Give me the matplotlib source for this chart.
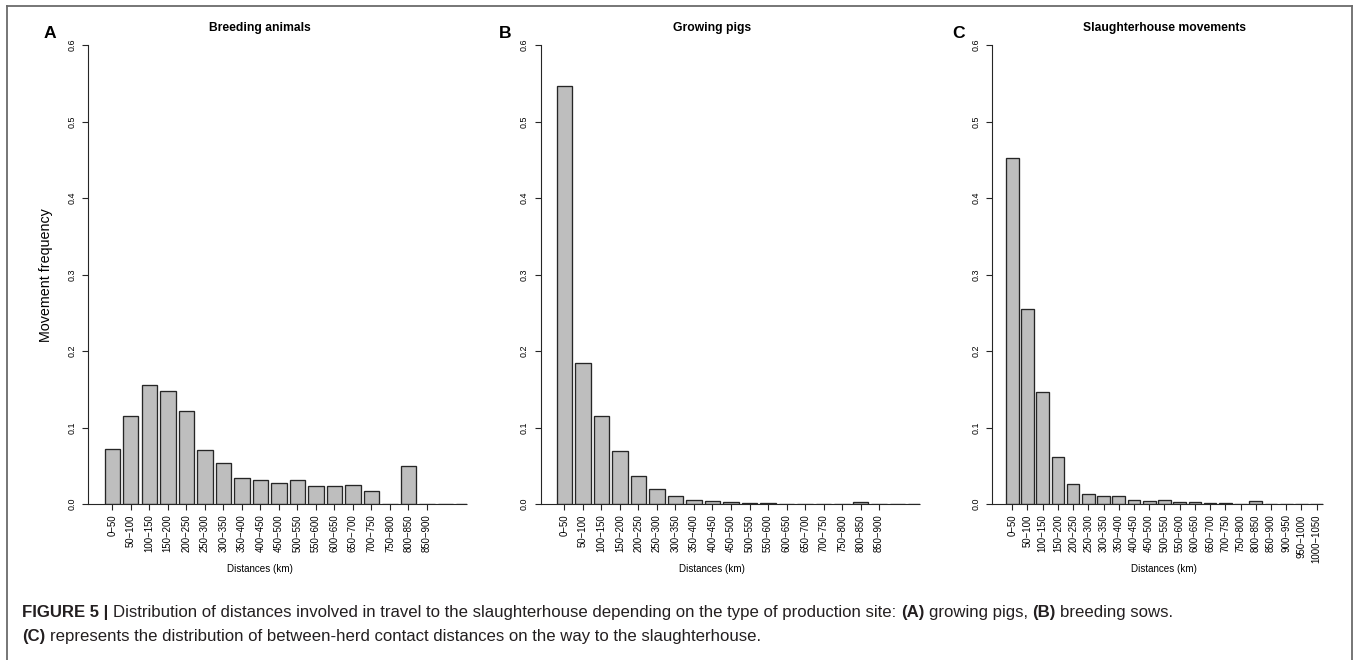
import matplotlib
matplotlib.use("Agg")
import matplotlib.pyplot as plt
from matplotlib.lines import Line2D

plt.rcParams['font.family'] = ['Liberation Sans', 'DejaVu Sans']

# ---------------- data ----------------
labels_ab = ["0−50", "50−100", "100−150", "150−200", "200−250", "250−300",
             "300−350", "350−400", "400−450", "450−500", "500−550", "550−600",
             "600−650", "650−700", "700−750", "750−800", "800−850", "850−900"]
labels_c = labels_ab + ["900−950", "950−1000", "1000−1050"]

breeding = [0.072, 0.115, 0.156, 0.148, 0.122, 0.070, 0.053, 0.034, 0.031, 0.027,
            0.032, 0.024, 0.023, 0.025, 0.017, 0.0, 0.050, 0.0, 0.0, 0.0]
growing = [0.547, 0.184, 0.115, 0.069, 0.037, 0.020, 0.010, 0.005, 0.0035, 0.002,
           0.0013, 0.0013, 0.0004, 0.0003, 0.0003, 0.0, 0.002, 0.0, 0.0, 0.0]
slaughter = [0.452, 0.255, 0.147, 0.062, 0.026, 0.0135, 0.010, 0.010, 0.0048, 0.0044,
             0.0048, 0.0022, 0.002, 0.0013, 0.0009, 0.0, 0.0035, 0.0, 0.0, 0.0, 0.0]

yticks = [0.0, 0.1, 0.2, 0.3, 0.4, 0.5, 0.6]
ytick_labels = ["0.0", "0.1", "0.2", "0.3", "0.4", "0.5", "0.6"]

titles = ["Breeding animals", "Growing pigs", "Slaughterhouse movements"]
letters = ["A", "B", "C"]

# ---------------- figure ----------------
W, H = 1357, 660
fig = plt.figure(figsize=(W / 100, H / 100), dpi=100)


def px_axes(left, top, right, bottom):
    return fig.add_axes([left / W, 1 - bottom / H, (right - left) / W, (bottom - top) / H])


EDGE = '#262626'
panels = [
    dict(vals=breeding, labels=labels_ab, box=(88, 45, 467, 504), xlim=(-1.31, 19.16),
         letter_x=50, center_x=259.5),
    dict(vals=growing, labels=labels_ab, box=(540.7, 45, 920.2, 504), xlim=(-1.28, 19.22),
         letter_x=505, center_x=712),
    dict(vals=slaughter, labels=labels_c, box=(992, 45, 1323, 504), xlim=(-1.33, 20.42),
         letter_x=959, center_x=1164.4),
]

for i, p in enumerate(panels):
    ax = px_axes(*p['box'])
    vals = p['vals']
    n = len(vals)
    ax.bar(range(n), vals, width=1 / 1.2, color='#bebebe', edgecolor=EDGE, linewidth=0.95)
    ax.set_xlim(*p['xlim'])
    ax.set_ylim(0, 0.6)
    for s in ['top', 'right', 'bottom']:
        ax.spines[s].set_visible(False)
    ax.spines['left'].set_linewidth(0.8)
    ax.spines['left'].set_color(EDGE)
    ax.set_yticks(yticks)
    ax.set_yticklabels(ytick_labels, rotation=90, va='center', fontsize=6.4)
    ax.set_xticks(range(len(p['labels'])))
    ax.set_xticklabels(p['labels'], rotation=90, fontsize=6.9, va='top', ha='center')
    ax.tick_params(axis='x', length=4.5, width=0.8, pad=3, color=EDGE)
    ax.tick_params(axis='y', length=4.5, width=0.8, pad=4, color=EDGE)
    right_end = min(p['xlim'][1], n - 1 + 0.5 / 1.2)
    ax.plot([p['xlim'][0], right_end], [0, 0], color=EDGE, lw=0.8, clip_on=False,
            solid_capstyle='butt')
    cx = p['center_x'] / W
    fig.text(cx, 1 - 27.5 / H, titles[i], ha='center', va='center',
             fontweight='bold', fontsize=8.7)
    fig.text(cx, 1 - 569 / H, 'Distances (km)', ha='center', va='center', fontsize=7.1)
    fig.text(p['letter_x'] / W, 1 - 33 / H, letters[i], ha='center', va='center',
             fontweight='bold', fontsize=12.6)

fig.text(46 / W, 1 - 275 / H, 'Movement frequency', rotation=90, ha='center',
         va='center', fontsize=10.3)

# ---------------- frame ----------------
FRAME = '#6b6b6b'
for xs, ys in [((7, 1352), (6, 6)), ((7, 7), (6, 660)), ((1352, 1352), (6, 660))]:
    fig.add_artist(Line2D([x / W for x in xs], [1 - y / H for y in ys],
                          color=FRAME, lw=1.3, transform=fig.transFigure))

# ---------------- caption ----------------
renderer = fig.canvas.get_renderer()
CAP_FS = 12.1
CAP_COL = '#231f20'


def text_width(s, bold):
    t = fig.text(0, 0, s, fontsize=CAP_FS, fontweight='bold' if bold else 'normal')
    w = t.get_window_extent(renderer=renderer).width
    t.remove()
    return w


space_w = text_width('x x', False) - text_width('xx', False)


def rich_line(parts, x, y):
    for k, (txt, bold) in enumerate(parts):
        t = fig.text(x / W, 1 - y / H, txt, fontsize=CAP_FS, color=CAP_COL,
                     fontweight='bold' if bold else 'normal', ha='left', va='center')
        x += t.get_window_extent(renderer=renderer).width + space_w


rich_line([("FIGURE 5 |", True),
           ("Distribution of distances involved in travel to the slaughterhouse depending "
            "on the type of production site:", False),
           ("(A)", True), ("growing pigs,", False), ("(B)", True), ("breeding sows.", False)],
          22, 612)
rich_line([("(C)", True),
           ("represents the distribution of between-herd contact distances on the way to "
            "the slaughterhouse.", False)], 22, 636)

fig.savefig('out.png', dpi=100)
